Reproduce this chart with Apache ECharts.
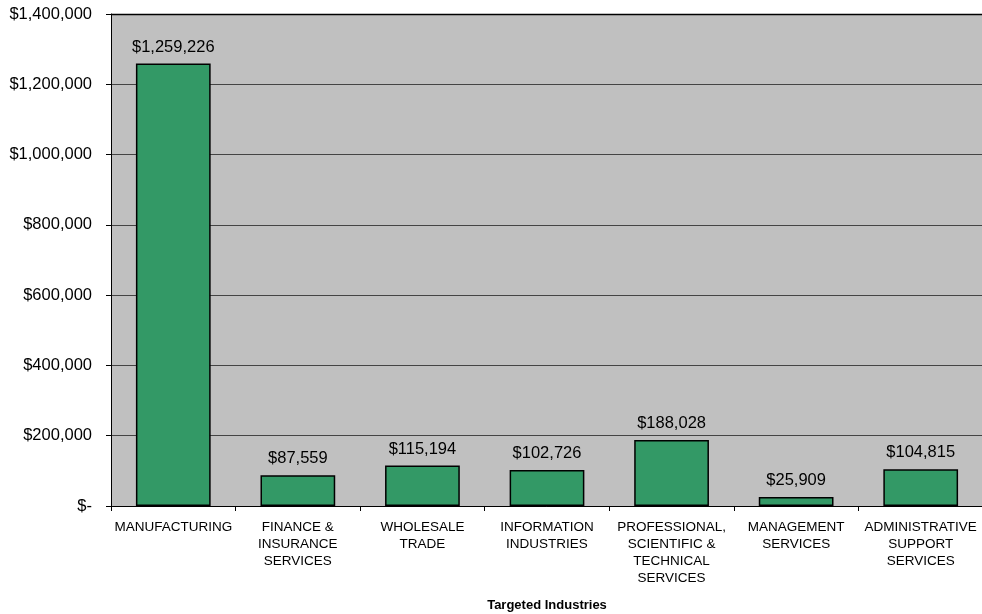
<!DOCTYPE html>
<html>
<head>
<meta charset="utf-8">
<script src="https://cdn.jsdelivr.net/npm/echarts@6/dist/echarts.min.js"></script>
<style>html,body{margin:0;padding:0;background:#fff;}#c{width:982px;height:614px;}</style>
</head>
<body>
<div id="c"></div>
<script>
const categories = [
  "MANUFACTURING",
  "FINANCE &\nINSURANCE\nSERVICES",
  "WHOLESALE\nTRADE",
  "INFORMATION\nINDUSTRIES",
  "PROFESSIONAL,\nSCIENTIFIC &\nTECHNICAL\nSERVICES",
  "MANAGEMENT\nSERVICES",
  "ADMINISTRATIVE\nSUPPORT\nSERVICES"
];
const values = [1259226, 87559, 115194, 102726, 188028, 25909, 104815];
const axisTitle = "Targeted Industries";

function money(v) {
  if (v === 0) return "$-";
  return "$" + v.toLocaleString("en-US");
}

const chart = echarts.init(document.getElementById("c"), null, {renderer: "canvas"});
chart.setOption({
  animation: false,
  textStyle: {fontFamily: "Liberation Sans, Arial, sans-serif"},
  grid: {left: 111, top: 14, right: -1, bottom: 108, outerBoundsMode: "none", containLabel: false, show: true, backgroundColor: "#C0C0C0", borderWidth: 0},
  xAxis: {
    type: "category",
    data: categories,
    name: axisTitle,
    nameLocation: "middle",
    nameGap: 93,
    nameTextStyle: {fontSize: 13, fontWeight: "bold", color: "#000", fontFamily: "Liberation Sans, Arial, sans-serif"},
    axisLine: {lineStyle: {color: "#000", width: 1}},
    axisTick: {show: true, alignWithLabel: false, length: 5, lineStyle: {color: "#000"}},
    axisLabel: {interval: 0, margin: 13, fontSize: 13.5, lineHeight: 17, color: "#000", fontFamily: "Liberation Sans, Arial, sans-serif"}
  },
  yAxis: {
    type: "value",
    min: 0,
    max: 1400000,
    interval: 200000,
    axisLine: {show: true, lineStyle: {color: "#000", width: 1}},
    axisTick: {show: true, length: 5, lineStyle: {color: "#000"}},
    axisLabel: {margin: 19, fontSize: 16.5, color: "#000", formatter: money, fontFamily: "Liberation Sans, Arial, sans-serif"},
    splitLine: {show: true, lineStyle: {color: "#444", width: 1}}
  },
  graphic: [{
    type: "line",
    shape: {x1: 111, y1: 14.5, x2: 982, y2: 14.5},
    style: {stroke: "#000", lineWidth: 1.5},
    z: 10
  }],
  series: [{
    type: "bar",
    data: values,
    barWidth: "60%",
    itemStyle: {color: "#339966", borderColor: "#000", borderWidth: 1.5},
    label: {show: true, position: "top", distance: 8, fontSize: 16.5, color: "#000", formatter: p => money(p.value), fontFamily: "Liberation Sans, Arial, sans-serif"}
  }]
});
</script>
</body>
</html>
